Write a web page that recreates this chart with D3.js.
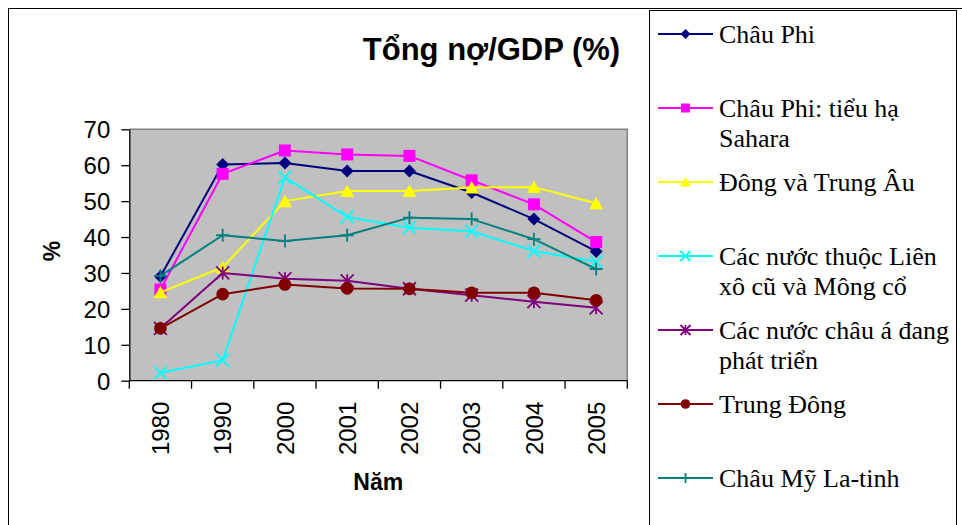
<!DOCTYPE html>
<html>
<head>
<meta charset="utf-8">
<script src="https://cdn.jsdelivr.net/npm/d3@7"></script>
<style>
  html, body { margin: 0; padding: 0; background: #fff; }
  svg { display: block; }
</style>
</head>
<body>
<svg id="chart" width="962" height="525"></svg>
<script>
// Years along the category axis
const years = ["1980", "1990", "2000", "2001", "2002", "2003", "2004", "2005"];

// Total debt as a share of GDP (%), one array per region
const chauPhi        = [29.0, 60.2, 60.6, 58.4, 58.4, 52.4, 45.0, 36.0];
const chauPhiSahara  = [25.4, 57.6, 64.1, 63.0, 62.6, 55.8, 49.1, 38.6];
const dongTrungAu    = [24.6, 31.6, 50.0, 52.8, 52.8, 53.8, 53.9, 49.4];
const lienXoMongCo   = [2.2, 5.7, 56.6, 45.6, 42.6, 41.6, 36.1, 33.1];
const chauADangPT    = [14.6, 30.0, 28.4, 27.8, 25.6, 23.8, 22.0, 20.3];
const trungDong      = [14.6, 24.1, 26.8, 25.7, 25.6, 24.5, 24.5, 22.4];
const chauMyLaTinh   = [29.2, 40.5, 38.9, 40.5, 45.4, 45.0, 39.4, 31.1];

const seriesNames = [
  "Châu Phi",
  "Châu Phi: tiểu hạ Sahara",
  "Đông và Trung Âu",
  "Các nước thuộc Liên xô cũ và Mông cổ",
  "Các nước châu á đang phát triển",
  "Trung Đông",
  "Châu Mỹ La-tinh"
];
const seriesValues = [chauPhi, chauPhiSahara, dongTrungAu, lienXoMongCo, chauADangPT, trungDong, chauMyLaTinh];
const seriesColors = ["#000080", "#FF00FF", "#FFFF00", "#00FFFF", "#800080", "#800000", "#008080"];
const seriesMarkers = ["diamond", "square", "triangle", "cross", "asterisk", "circle", "plus"];

const yTicks = [0, 10, 20, 30, 40, 50, 60, 70];

const titleText = "Tổng nợ/GDP (%)";
const xTitle = "Năm";
const yTitle = "%";

const SANS = "'Liberation Sans', Arial, sans-serif";
const SERIF = "'Liberation Serif', 'Times New Roman', serif";

const svg = d3.select("#chart");

// Outer chart frame and legend box
svg.append("rect").attr("x", 8.5).attr("y", 8.5).attr("width", 960).attr("height", 540)
  .attr("fill", "#fff").attr("stroke", "#000").attr("stroke-width", 1);
svg.append("rect").attr("x", 649.5).attr("y", 10.5).attr("width", 307).attr("height", 540)
  .attr("fill", "#fff").attr("stroke", "#000").attr("stroke-width", 1);

// Plot area
const plot = { left: 129.3, right: 627.3, top: 129.3, bottom: 380.7 };

const x = d3.scaleBand().domain(years).range([plot.left, plot.right]).padding(0);
const y = d3.scaleLinear().domain([0, 70]).range([plot.bottom, plot.top]);
const cx = d => x(d) + x.bandwidth() / 2;

svg.append("rect")
  .attr("x", plot.left).attr("y", plot.top)
  .attr("width", plot.right - plot.left).attr("height", plot.bottom - plot.top)
  .attr("fill", "#C0C0C0");
// grey top and right edges of the plot area
svg.append("path")
  .attr("d", `M${plot.left},${plot.top}H${plot.right}V${plot.bottom}`)
  .attr("fill", "none").attr("stroke", "#808080").attr("stroke-width", 1.5);

// Y axis
const yAxis = svg.append("g")
  .attr("transform", `translate(${plot.left},0)`)
  .call(d3.axisLeft(y).tickValues(yTicks).tickSize(8).tickPadding(11).tickSizeOuter(0));
yAxis.select(".domain").attr("stroke", "#000").attr("stroke-width", 1.3);
yAxis.selectAll(".tick line").attr("stroke", "#000").attr("stroke-width", 1.3);
yAxis.selectAll(".tick text")
  .attr("font-family", SANS).attr("font-size", 24).attr("fill", "#000").attr("dy", "0.36em");

// X axis: boundary tick marks plus rotated category labels
const xAxis = svg.append("g").attr("transform", `translate(0,${plot.bottom})`);
xAxis.append("line").attr("x1", plot.left).attr("x2", plot.right)
  .attr("stroke", "#000").attr("stroke-width", 1.3);
const boundaries = years.map(d => x(d)).concat([plot.right]);
xAxis.selectAll("line.tk").data(boundaries).join("line").attr("class", "tk")
  .attr("x1", d => d).attr("x2", d => d).attr("y1", 0).attr("y2", 8)
  .attr("stroke", "#000").attr("stroke-width", 1.3);
xAxis.selectAll("text.lbl").data(years).join("text").attr("class", "lbl")
  .attr("transform", d => `translate(${cx(d) + 8.6},21) rotate(-90)`)
  .attr("text-anchor", "end")
  .attr("font-family", SANS).attr("font-size", 24).attr("fill", "#000")
  .text(d => d);

// Axis titles and chart title
svg.append("text").attr("x", (plot.left + plot.right) / 2).attr("y", 490)
  .attr("text-anchor", "middle").attr("font-family", SANS).attr("font-weight", "bold")
  .attr("font-size", 23).text(xTitle);
svg.append("text").attr("transform", `translate(60,${(plot.top + plot.bottom) / 2 - 4}) rotate(-90)`)
  .attr("text-anchor", "middle").attr("font-family", SANS).attr("font-weight", "bold")
  .attr("font-size", 23).text(yTitle);
svg.append("text").attr("x", 491.5).attr("y", 60)
  .attr("text-anchor", "middle").attr("font-family", SANS).attr("font-weight", "bold")
  .attr("font-size", 31).text(titleText);

// Marker drawing
function drawMarker(g, type, s, color) {
  const h = s / 2;
  switch (type) {
    case "diamond":
      g.append("path").attr("d", `M0,${-h}L${h},0L0,${h}L${-h},0Z`).attr("fill", color);
      break;
    case "square":
      g.append("rect").attr("x", -h + 0.5).attr("y", -h + 0.5).attr("width", s - 1).attr("height", s - 1).attr("fill", color);
      break;
    case "triangle":
      g.append("path").attr("d", `M0,${-h}L${h + 0.5},${h - 0.5}L${-h - 0.5},${h - 0.5}Z`).attr("fill", color);
      break;
    case "circle":
      g.append("circle").attr("r", h - 0.2).attr("fill", color);
      break;
    case "cross":
      g.append("path").attr("d", `M${-h},${-h}L${h},${h}M${h},${-h}L${-h},${h}`)
        .attr("stroke", color).attr("stroke-width", 1.8).attr("fill", "none");
      break;
    case "asterisk":
      g.append("path").attr("d", `M${-h},${-h}L${h},${h}M${h},${-h}L${-h},${h}M0,${-h}L0,${h}`)
        .attr("stroke", color).attr("stroke-width", 1.8).attr("fill", "none");
      break;
    case "plus":
      g.append("path").attr("d", `M${-h},0L${h},0M0,${-h}L0,${h}`)
        .attr("stroke", color).attr("stroke-width", 1.8).attr("fill", "none");
      break;
  }
}

// Series lines and markers
const line = d3.line().x((d, i) => cx(years[i])).y(d => y(d));
seriesValues.forEach((vals, si) => {
  const g = svg.append("g");
  g.append("path").datum(vals).attr("d", line)
    .attr("fill", "none").attr("stroke", seriesColors[si]).attr("stroke-width", 2)
    .attr("stroke-linejoin", "round");
  g.selectAll("g.m").data(vals).join("g").attr("class", "m")
    .attr("transform", (d, i) => `translate(${cx(years[i])},${y(d)})`)
    .each(function () { drawMarker(d3.select(this), seriesMarkers[si], 13, seriesColors[si]); });
});

// Legend
const legend = svg.append("g");
const legX0 = 658, legX1 = 713, legTextX = 719, legY0 = 34, legStep = 74, lineH = 30, maxW = 238;
seriesNames.forEach((name, i) => {
  const yy = legY0 + i * legStep;
  const g = legend.append("g");
  g.append("line").attr("x1", legX0).attr("x2", legX1).attr("y1", yy).attr("y2", yy)
    .attr("stroke", seriesColors[i]).attr("stroke-width", 2);
  const m = g.append("g").attr("transform", `translate(${(legX0 + legX1) / 2},${yy})`);
  drawMarker(m, seriesMarkers[i], 10, seriesColors[i]);
  const t = g.append("text").attr("x", legTextX).attr("y", yy + 8.5)
    .attr("font-family", SERIF).attr("font-size", 26).attr("fill", "#000");
  // word-wrap the label inside the legend box
  const words = name.split(" ");
  let lineNo = 0;
  let ts = t.append("tspan").attr("x", legTextX).attr("dy", 0);
  let cur = [];
  words.forEach(w => {
    cur.push(w);
    ts.text(cur.join(" "));
    if (ts.node().getComputedTextLength() > maxW && cur.length > 1) {
      cur.pop();
      ts.text(cur.join(" "));
      cur = [w];
      lineNo++;
      ts = t.append("tspan").attr("x", legTextX).attr("dy", lineH).text(w);
    }
  });
});
</script>
</body>
</html>
